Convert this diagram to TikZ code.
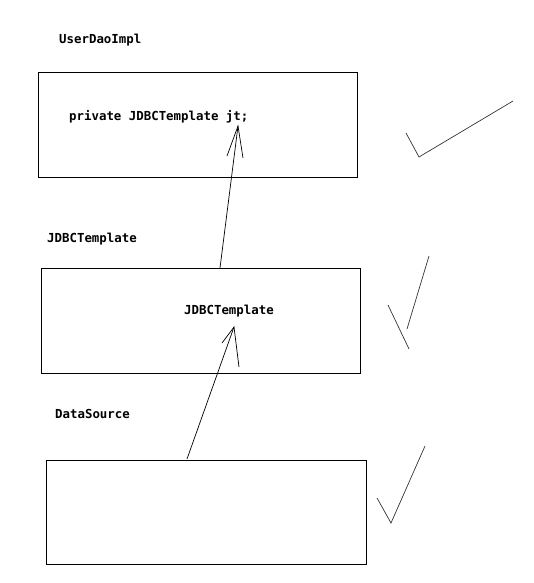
\documentclass[tikz,border=0pt]{standalone}
\usepackage{fontspec}
\setmonofont{DejaVu Sans Mono}
\begin{document}
\begin{tikzpicture}[x=1pt,y=-1pt,
  boxstyle/.style={draw,line width=0.9pt,rectangle,inner sep=0pt},
  lbl/.style={anchor=west,inner sep=0pt,font=\ttfamily\bfseries\fontsize{12.4}{13}\selectfont},
  lin/.style={line width=0.7pt},
  tick/.style={line width=0.7pt,draw=black!80}]
\useasboundingbox (0,0) rectangle (533,583);
% boxes
\node[boxstyle,minimum width=319pt,minimum height=105pt] (b1) at (197.5,124.5) {};
\node[boxstyle,minimum width=319pt,minimum height=105pt] (b2) at (200.5,320.5) {};
\node[boxstyle,minimum width=320pt,minimum height=104pt] (b3) at (206,512) {};
% labels
\node[lbl] (l1) at (59,40) {UserDaoImpl};
\node[lbl] (t1) at (69,117) {private JDBCTemplate jt;};
\node[lbl] (l2) at (47,239) {JDBCTemplate};
\node[lbl] (t2) at (184,311) {JDBCTemplate};
\node[lbl] (l3) at (55,414) {DataSource};
% arrow 1
\coordinate (s1) at (220,268);
\coordinate (tip1) at (238,126);
\draw[lin] (s1) -- (tip1);
\draw[lin] (227,156) -- (tip1) -- (243,158);
% arrow 2
\coordinate (s2) at (187,459);
\coordinate (tip2) at (234,327);
\draw[lin] (s2) -- (tip2);
\draw[lin] (222,343) -- (tip2) -- (239,367);
% check marks
\draw[tick] (406,133) -- (419,157) -- (513,101);
\draw[tick] (388,305) -- (409,349);
\draw[tick] (407,329) -- (429,256);
\draw[tick] (377,498) -- (391,523) -- (425,446);
\end{tikzpicture}
\end{document}
